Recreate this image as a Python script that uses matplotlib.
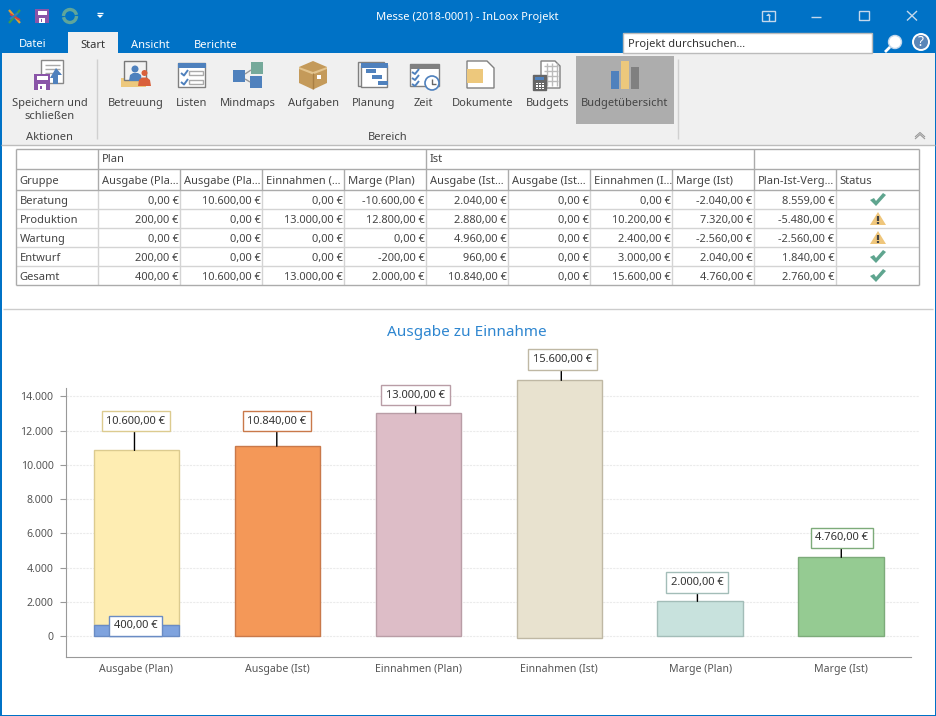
import matplotlib
matplotlib.use('Agg')
import matplotlib.pyplot as plt
from matplotlib.patches import Rectangle, Polygon, Circle, Arc

plt.rcParams['font.family'] = ['Noto Sans', 'DejaVu Sans']

# chart data
categories = ['Ausgabe (Plan)', 'Ausgabe (Ist)', 'Einnahmen (Plan)', 'Einnahmen (Ist)', 'Marge (Plan)', 'Marge (Ist)']
bar_tops = [10845, 11090, 13020, 14930, 2040, 4606]
bar_bottoms = [660, 0, 0, -115, 0, 0]
plan_base = 660
bar_labels = ['10.600,00 €', '10.840,00 €', '13.000,00 €', '15.600,00 €', '2.000,00 €', '4.760,00 €']
base_label = '400,00 €'
y_ticks = [0, 2000, 4000, 6000, 8000, 10000, 12000, 14000]
y_tick_labels = ['0', '2.000', '4.000', '6.000', '8.000', '10.000', '12.000', '14.000']

# table data
head_top = ['', 'Plan', '', '', '', 'Ist', '', '', '', '', '']
head_cols = ['Gruppe', 'Ausgabe (Pla...', 'Ausgabe (Pla...', 'Einnahmen (...', 'Marge (Plan)',
             'Ausgabe (Ist...', 'Ausgabe (Ist...', 'Einnahmen (I...', 'Marge (Ist)', 'Plan-Ist-Verg...', 'Status']
groups = ['Beratung', 'Produktion', 'Wartung', 'Entwurf', 'Gesamt']
rows = [
    ['0,00 €', '10.600,00 €', '0,00 €', '-10.600,00 €', '2.040,00 €', '0,00 €', '0,00 €', '-2.040,00 €', '8.559,00 €'],
    ['200,00 €', '0,00 €', '13.000,00 €', '12.800,00 €', '2.880,00 €', '0,00 €', '10.200,00 €', '7.320,00 €', '-5.480,00 €'],
    ['0,00 €', '0,00 €', '0,00 €', '0,00 €', '4.960,00 €', '0,00 €', '2.400,00 €', '-2.560,00 €', '-2.560,00 €'],
    ['200,00 €', '0,00 €', '0,00 €', '-200,00 €', '960,00 €', '0,00 €', '3.000,00 €', '2.040,00 €', '1.840,00 €'],
    ['400,00 €', '10.600,00 €', '13.000,00 €', '2.000,00 €', '10.840,00 €', '0,00 €', '15.600,00 €', '4.760,00 €', '2.760,00 €'],
]
status = ['ok', 'warn', 'warn', 'ok', 'ok']

BLUE = '#0072C6'
TXT = '#444444'

fig = plt.figure(figsize=(9.36, 7.16), dpi=100)
ui = fig.add_axes([0, 0, 1, 1])
ui.set_xlim(0, 936)
ui.set_ylim(716, 0)
ui.axis('off')


def box(x0, y0, x1, y1, fc='none', ec='none', lw=1, z=2):
    ui.add_patch(Rectangle((x0, y0), x1 - x0, y1 - y0, fc=fc, ec=ec, lw=lw, zorder=z))


def line(xs, ys, c='#888888', lw=1, z=3):
    ui.plot(xs, ys, color=c, lw=lw, zorder=z, solid_capstyle='butt')


def poly(pts, fc, ec='none', z=3):
    ui.add_patch(Polygon(pts, closed=True, fc=fc, ec=ec, lw=1, zorder=z))


def label(x, y, s, size=8, c=TXT, ha='center'):
    # baseline alignment so that descenders do not move the text
    ui.text(x, y + 4, s, fontsize=size, color=c, ha=ha, va='baseline', zorder=5)


# window frame, title bar, ribbon
box(0, 0, 936, 716, fc=BLUE, z=0)
box(1.5, 53, 934.5, 714.5, fc='white', z=1)
box(1.5, 53, 934.5, 145, fc='#F0F0F0', z=1)
line([1, 935], [145, 145], c='#BDBDBD', lw=1)
line([3, 933], [309, 309], c='#CCCCCC', lw=1)
label(467, 16, 'Messe (2018-0001) - InLoox Projekt', c='white')
box(68, 32, 118, 53, fc='#F0F0F0')
label(33, 43, 'Datei', c='white')
label(93, 44, 'Start', c='#333333')
label(150, 44, 'Ansicht', c='white')
label(216, 44, 'Berichte', c='white')
box(623, 33, 872, 53, fc='white', ec='#BBBBBB')
label(628, 43, 'Projekt durchsuchen...', c='#333333', ha='left')

# quick access icons
line([9, 20], [10, 23], c='#E0A030', lw=1.6)
line([20, 9], [10, 23], c='#3C9A50', lw=1.6)
line([10, 20], [14, 20], c='#D04040', lw=1.4)
line([10, 18], [19, 13], c='#2F7FC0', lw=1.4)
box(35, 9, 49, 23, fc='#8A55A8')
box(37.5, 10.5, 46.5, 15, fc='white')
box(39, 18, 45, 23, fc='white')
box(40.5, 19, 42, 22, fc='#8A55A8', z=3)
ui.add_patch(Arc((70, 16), 13, 13, theta1=180, theta2=350, color='#5FA59A', lw=2.4, zorder=3))
ui.add_patch(Arc((70, 16), 13, 13, theta1=0, theta2=170, color='#5FA59A', lw=2.4, zorder=3))
line([97, 103], [13, 13], c='white', lw=1)
poly([(97, 15), (103, 15), (100, 18)], 'white')

# window buttons
box(762, 11, 774.5, 21, ec='#C4D8EC')
line([768.5, 768.5], [14, 21], c='#C4D8EC')
poly([(766, 16), (771, 16), (768.5, 13.5)], '#C4D8EC')
line([811, 821], [17, 17], c='#C4D8EC')
box(859, 11, 868.5, 20, ec='#C4D8EC')
line([907, 917], [11, 20.5], c='#C4D8EC')
line([907, 917], [20.5, 11], c='#C4D8EC')
ui.add_patch(Circle((895, 42), 6.5, fc='white', ec='#C4D8EC', lw=1, zorder=3))
line([890, 885], [47, 52], c='white', lw=2)
ui.add_patch(Circle((921, 42), 8, fc='#5A86B8', ec='white', lw=1.4, zorder=3))
ui.text(921, 42, '?', fontsize=10, color='white', ha='center', va='center', fontweight='bold', zorder=5)

# ribbon groups
line([97, 97], [59, 139], c='#D0D0D0')
line([678, 678], [59, 139], c='#D0D0D0')
box(576, 56, 674, 124, fc='#ADADAD')
label(49.5, 102, 'Speichern und')
label(49.5, 115, 'schließen')
label(49.5, 136, 'Aktionen')
label(388, 136, 'Bereich')
for x, s in [(135.5, 'Betreuung'), (192, 'Listen'), (248, 'Mindmaps'), (313.5, 'Aufgaben'), (373.5, 'Planung'),
             (423.5, 'Zeit'), (483, 'Dokumente'), (547.5, 'Budgets'), (625, 'Budgetübersicht')]:
    label(x, 102, s)
line([915, 920, 925], [137, 132.5, 137], c='#999999', lw=0.8)
line([915, 920, 925], [139, 134.5, 139], c='#999999', lw=0.8)

# ribbon icons
box(41, 60, 63, 83, fc='white', ec='#888888')
for y in (65, 69, 73):
    line([45, 60], [y, y], c='#AAAAAA')
box(34, 74, 50, 90, fc='#8A55A8', z=3)
box(36.5, 75.5, 47.5, 80, fc='white', z=3)
box(38, 84, 46, 90, fc='white', z=3)
box(40, 85.5, 42, 89, fc='#8A55A8', z=4)
poly([(50, 78), (56, 68), (62, 75), (58, 75), (58, 84), (53, 84), (53, 78)], '#4F81BD')

box(121, 78, 146, 87, fc='#EDC87C')
box(124, 61, 146, 80, fc='#F2F2F2', ec='#777777')
ui.add_patch(Circle((135, 69), 3.5, fc='#4F81BD', zorder=4))
poly([(129, 81), (130, 75), (133, 73), (138, 73), (141, 75), (142, 81)], '#4F81BD', z=4)
ui.add_patch(Circle((144.5, 73), 3, fc='#D9603B', zorder=4))
poly([(138, 86), (139, 80), (142, 77.5), (147, 77.5), (150, 80), (151, 86)], '#D9603B', z=4)

box(178, 63, 205, 87, fc='white', ec='#808080')
box(178, 63, 206, 68, fc='#4F81BD')
for y in (73, 82):
    line([181, 184, 188], [y, y + 2.5, y - 3], c='#4F81BD', lw=1.4)
    box(189, y - 2, 203, y + 2, ec='#AAAAAA')

box(233, 70, 245, 82, fc='#4F81BD')
box(251, 62, 263, 74, fc='#75A99A')
box(250, 76, 262, 88, fc='#4F81BD')
line([245, 251], [74, 70], c='#999999')
line([245, 250], [79, 82], c='#999999')

poly([(313, 61), (327, 67), (327, 83), (313, 89.5), (299, 83), (299, 67)], '#C49A5A')
poly([(299, 67), (313, 72), (327, 67), (327, 69), (313, 74.5), (299, 69)], '#E3C48E')
line([313, 313], [73, 89], c='#A97F43')
box(317, 75, 321, 79, fc='white', z=4)

box(358, 62, 384, 86, ec='#808080')
box(361, 65, 387, 87, fc='white', ec='#808080')
box(361, 63, 388, 68, fc='#4F81BD', z=4)
box(366, 69, 376, 72.5, fc='#4F81BD', z=4)
box(372, 75, 382, 78.5, fc='#4F81BD', z=4)
box(378, 81, 388, 84.5, fc='#4F81BD', z=4)

box(410, 64, 439, 86, fc='white', ec='#808080')
box(410, 64, 439, 69, fc='#808080')
for y in (72, 78, 84):
    line([412, 415, 419], [y, y + 2, y - 3], c='#4F81BD', lw=1.4)
ui.add_patch(Circle((432, 83), 7, fc='white', ec='#4F81BD', lw=1.2, zorder=4))
line([432, 432, 436], [79, 84, 84], c='#666666', z=5)

poly([(467, 61), (487, 61), (494, 68), (494, 88), (467, 88)], 'white', ec='#808080')
box(467, 69, 483, 83, fc='#EDC87C', z=4)

poly([(541, 61), (555, 61), (560, 66), (560, 88), (541, 88)], 'white', ec='#808080')
for y in (66, 71, 76, 81):
    line([544, 558], [y, y], c='#BBBBBB')
for x in (547, 552, 557):
    line([x, x], [63, 86], c='#BBBBBB')
box(533, 75, 546, 90, fc='#666666', ec='#666666', z=4)
box(535, 77, 544, 80, fc='#4F81BD', z=5)
for yy in (82.5, 85, 87.5):
    for xx in (536, 539, 542):
        box(xx, yy, xx + 2, yy + 1.5, fc='white', z=5)

box(611, 71, 619, 89, fc='#4F81BD')
box(621, 61, 629, 89, fc='#EDC87C')
box(631, 67, 639, 89, fc='#808080')

# table
col_x = [16, 98, 180, 262, 344, 426, 508, 590, 672, 754, 836, 919]
row_y = [149, 169, 190, 209, 228, 247, 266, 285]
for y in row_y[3:-1]:
    line([col_x[0], col_x[-1]], [y, y], c='#D4D4D4')
for x in col_x[1:-1]:
    line([x, x], [row_y[2], row_y[-1]], c='#D4D4D4')
for x in col_x[1:-1]:
    line([x, x], [row_y[1], row_y[2]], c='#ABABAB')
for x in (col_x[1], col_x[5], col_x[9]):
    line([x, x], [row_y[0], row_y[1]], c='#ABABAB')
for y in row_y[:3]:
    line([col_x[0], col_x[-1]], [y, y], c='#ABABAB')
line([col_x[0], col_x[-1]], [row_y[-1], row_y[-1]], c='#ABABAB')
line([col_x[0], col_x[0]], [row_y[0], row_y[-1]], c='#ABABAB')
line([col_x[-1], col_x[-1]], [row_y[0], row_y[-1]], c='#ABABAB')

for i, s in enumerate(head_top):
    if s:
        label(col_x[i] + 3.5, 158.5, s, ha='left')
for i, s in enumerate(head_cols):
    label(col_x[i] + 3.5, 179.7, s, ha='left')
for r, g in enumerate(groups):
    yc = (row_y[r + 2] + row_y[r + 3]) / 2 + 0.5
    label(col_x[0] + 3.5, yc, g, ha='left')
    for c, s in enumerate(rows[r]):
        label(col_x[c + 2] - 1.5, yc, s, ha='right', size=7.9)
    xc = 878
    if status[r] == 'ok':
        poly([(xc - 8, yc), (xc - 4, yc - 2), (xc - 2, yc + 1), (xc + 5, yc - 7), (xc + 8, yc - 5), (xc - 2, yc + 6)], '#5FA58F')
    else:
        poly([(xc, yc - 7), (xc + 8, yc + 6), (xc - 8, yc + 6)], '#EFC67B')
        line([xc, xc], [yc - 3, yc + 2], c='#444444', lw=1.6, z=4)
        line([xc, xc], [yc + 3.2, yc + 5], c='#444444', lw=1.6, z=4)

# chart, the axes box runs above the y axis so the tallest bar and labels fit
left, right, top, bottom = 66, 918.5, 340, 657
ax = fig.add_axes([left / 936, (716 - bottom) / 716, (right - left) / 936, (bottom - top) / 716])
ax.patch.set_alpha(0)
ax.set_xlim(-0.5, 5.55)
ax.set_ylim(-1207, 17284)

face = ['#FEEDB2', '#F49858', '#DDBDC7', '#E8E2CF', '#C8E2DD', '#95CB92']
edge = ['#DCCB8F', '#C9794A', '#B99DA6', '#BFB8A4', '#A3BDB8', '#7DAB7A']
xs = range(len(categories))
ax.bar(xs, [t - b for t, b in zip(bar_tops, bar_bottoms)], bottom=bar_bottoms, width=0.605,
       color=face, edgecolor=edge, linewidth=1, zorder=3)
ax.bar(0, plan_base, width=0.605, color='#7FA3DE', edgecolor='#6A8CC4', linewidth=1, zorder=3)

ax.set_yticks(y_ticks)
ax.set_yticklabels(y_tick_labels, fontsize=7.6, color='#555555')
ax.set_xticks(list(xs))
ax.set_xticklabels(categories, fontsize=7.6, color='#555555')
ax.tick_params(axis='x', length=0, pad=5)
ax.tick_params(axis='y', length=4, color='#999999', pad=5)
ax.grid(axis='y', color='#EBEBEB', lw=0.8, ls=(0, (2, 1)), zorder=0)
ax.spines['top'].set_visible(False)
ax.spines['right'].set_visible(False)
for s in ('left', 'bottom'):
    ax.spines[s].set_color('#999999')
ax.spines['bottom'].set_bounds(-0.5, 5.5)
ax.spines['left'].set_bounds(-1207, 14484)

# leader foot offset on the bar (in bar widths) and box centre offset, pixels
foot_off = [-0.014, -0.004, -0.019, 0.015, -0.019, 0.002]
box_dx = [1.5, 0, 0, 1, 0, 0.5]
box_dy = [29.3, 25, 18, 21, 19, 19.5]
for i, s in enumerate(bar_labels):
    foot = (i + foot_off[i], bar_tops[i])
    ax.annotate('', xy=foot, xytext=(0, box_dy[i]), textcoords='offset pixels', zorder=5,
                arrowprops=dict(arrowstyle='-', color='black', lw=1, shrinkA=0, shrinkB=0))
    ax.annotate(s, xy=foot, xytext=(box_dx[i], box_dy[i]), textcoords='offset pixels',
                ha='center', va='center', fontsize=8, color='#333333', zorder=6,
                bbox=dict(boxstyle='square,pad=0.42', fc='white', ec=edge[i], lw=1))
ax.annotate(base_label, xy=(0, plan_base), xytext=(-1, -0.8), textcoords='offset pixels',
            ha='center', va='center', fontsize=8, color='#333333', zorder=6,
            bbox=dict(boxstyle='square,pad=0.42', fc='white', ec='#6A8CC4', lw=1))

ui.text(467, 333, 'Ausgabe zu Einnahme', fontsize=11, color='#2E86D0', ha='center', va='center', zorder=5)

fig.savefig('out.png', dpi=100)
